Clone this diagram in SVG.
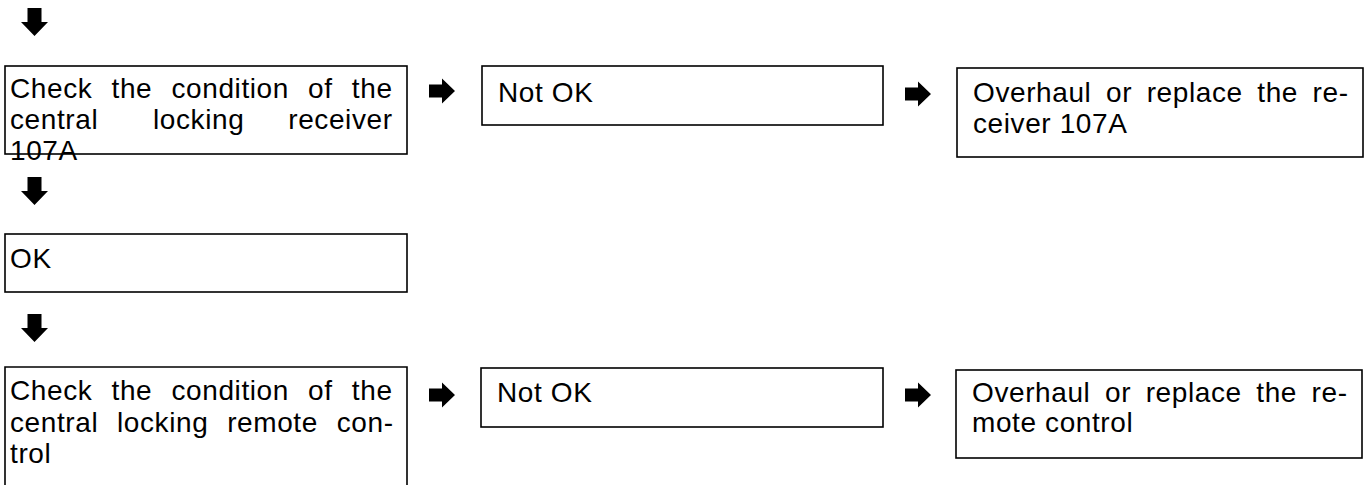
<svg xmlns="http://www.w3.org/2000/svg" width="1370" height="485" viewBox="0 0 1370 485">
<style>
.box{fill:none;stroke:#000;stroke-width:1.6}
.t{font-family:"Liberation Sans",Arial,sans-serif;font-size:28px;letter-spacing:0.6px;fill:#000}
.arr{fill:#000}
</style>
<defs>
<path id="ar" class="arr" d="M0,-6.5 H13 V-12.5 L26,0 L13,12.5 V6.5 H0 Z"/>
<path id="ad" class="arr" d="M-7,0 H7 V14 H13.5 L0,28 L-13.5,14 H-7 Z"/>
</defs>
<rect width="1370" height="485" fill="#fff"/>
<g id="connectors">
<use href="#ad" x="34.5" y="8"/>
<use href="#ad" x="34.5" y="177"/>
<use href="#ad" x="34.5" y="314"/>
<use href="#ar" x="429" y="91"/>
<use href="#ar" x="905" y="94"/>
<use href="#ar" x="429" y="395"/>
<use href="#ar" x="905" y="395"/>
</g>
<g id="check-receiver">
<rect class="box" x="5" y="66" width="402" height="88"/>
<text class="t" x="10" y="98" word-spacing="10.8">Check the condition of the</text>
<text class="t" x="10" y="129">central</text>
<text class="t" x="153" y="129">locking</text>
<text class="t" x="392.6" y="129" text-anchor="end">receiver</text>
<text class="t" x="10" y="160">107A</text>
</g>
<g id="notok-1">
<rect class="box" x="482" y="66" width="401" height="59"/>
<text class="t" x="498" y="101.5">Not OK</text>
</g>
<g id="overhaul-receiver">
<rect class="box" x="957" y="68" width="406" height="89"/>
<text class="t" x="973" y="102" word-spacing="6.2">Overhaul or replace the re-</text>
<text class="t" x="973" y="133">ceiver 107A</text>
</g>
<g id="ok">
<rect class="box" x="5" y="234" width="402" height="58"/>
<text class="t" x="10" y="268">OK</text>
</g>
<g id="check-remote">
<path class="box" d="M5,486 V367 H407 V486"/>
<text class="t" x="10" y="400" word-spacing="10.8">Check the condition of the</text>
<text class="t" x="10" y="432" word-spacing="10.4">central locking remote con-</text>
<text class="t" x="10" y="463">trol</text>
</g>
<g id="notok-2">
<rect class="box" x="481" y="368" width="402" height="59"/>
<text class="t" x="497" y="402">Not OK</text>
</g>
<g id="overhaul-remote">
<rect class="box" x="956" y="370" width="406" height="88"/>
<text class="t" x="972" y="402" word-spacing="6.2">Overhaul or replace the re-</text>
<text class="t" x="972" y="432">mote control</text>
</g>
</svg>
